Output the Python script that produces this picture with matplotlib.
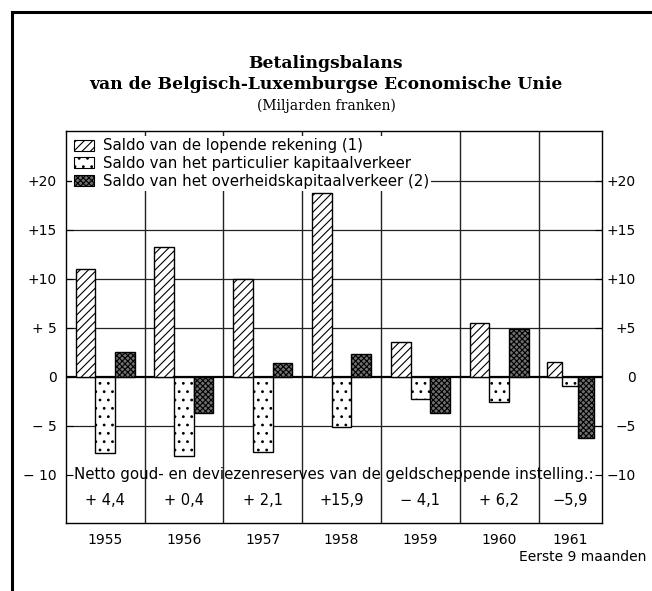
import matplotlib.pyplot as plt
from matplotlib.patches import Patch
from matplotlib.lines import Line2D
import matplotlib.transforms as mtransforms

plt.rcParams['font.family'] = ['DejaVu Sans']
plt.rcParams['hatch.linewidth'] = 0.8

years = ['1955', '1956', '1957', '1958', '1959', '1960', '1961']
col_widths = [1, 1, 1, 1, 1, 1, 0.8]   # last column (9 months) is narrower
lopende = [11.0, 13.3, 10.0, 18.8, 3.6, 5.5, 1.5]
particulier = [-7.8, -8.1, -7.7, -5.1, -2.2, -2.6, -0.9]
overheid = [2.6, -3.7, 1.4, 2.3, -3.7, 4.9, -6.2]
reserves = ['+ 4,4', '+ 0,4', '+ 2,1', '+15,9', '\u2212 4,1', '+ 6,2', '\u22125,9']

left_ticks = ['\u2212 10', '\u2212 5', '0', '+ 5', '+10', '+15', '+20']
right_ticks = ['\u221210', '\u22125', '0', '+5', '+10', '+15', '+20']
tick_vals = [-10, -5, 0, 5, 10, 15, 20]

labels = ['Saldo van de lopende rekening (1)',
          'Saldo van het particulier kapitaalverkeer',
          'Saldo van het overheidskapitaalverkeer (2)']

edges = [0]
for w in col_widths:
    edges.append(edges[-1] + w)
centers = [edges[i] + col_widths[i] / 2 for i in range(len(years))]

fig = plt.figure(figsize=(6.52, 5.91), dpi=100)
ax = fig.add_axes([65.7 / 652, 68 / 591, 536 / 652, 392 / 591])
ax.set_xlim(edges[0], edges[-1])
ax.set_ylim(-14.9, 25.1)

# grid
for y in [-5, 5, 10, 15, 20]:
    ax.axhline(y, color='#222222', lw=0.9, zorder=1)
ax.axhline(0, color='black', lw=1.6, zorder=4)
for e in edges[1:-1]:
    ax.axvline(e, color='#222222', lw=1.0, zorder=1)

styles = [dict(facecolor='white', hatch='////'),
          dict(facecolor='white', hatch='..'),
          dict(facecolor='#707070', hatch='xxxxxx')]
series = [lopende, particulier, overheid]
for s, (vals, st) in enumerate(zip(series, styles)):
    xs = [edges[i] + col_widths[i] * (0.25 * (s + 1)) for i in range(len(years))]
    ws = [w * 0.25 for w in col_widths]
    ax.bar(xs, vals, width=ws, edgecolor='black', lw=1.0, zorder=7, **st)

# netto reserves row
trans = mtransforms.blended_transform_factory(ax.transAxes, ax.transData)
ax.text(0.5, -10, 'Netto goud- en deviezenreserves van de geldscheppende instelling.:',
        transform=trans, ha='center', va='center', fontsize=10.8, zorder=5)
for c, r in zip(centers, reserves):
    ax.text(c, -12.6, r, ha='center', va='center', fontsize=10.5, zorder=5)

# axes / ticks
for sp in ax.spines.values():
    sp.set_linewidth(1.0)
ax.set_yticks(tick_vals, left_ticks)
ax.tick_params(axis='y', direction='in', length=5, pad=6.3, labelsize=10)
ax.set_xticks(centers, years)
ax.tick_params(axis='x', length=0, pad=7, labelsize=10)

ax2 = ax.twinx()
ax2.set_ylim(ax.get_ylim())
ax2.set_yticks(tick_vals, right_ticks)
ax2.tick_params(axis='y', direction='in', length=5, pad=24.5, labelsize=10)
for t in ax2.get_yticklabels():
    t.set_horizontalalignment('right')
for sp in ax2.spines.values():
    sp.set_visible(False)

handles = [Patch(edgecolor='black', lw=0.8, **st) for st in styles]
leg = ax.legend(handles, labels, loc='upper left', bbox_to_anchor=(0.012, 0.987),
                borderaxespad=0, frameon=True, fancybox=False, fontsize=10.8,
                handlelength=1.3, handleheight=0.75, handletextpad=0.6,
                labelspacing=0.18, borderpad=0.15)
leg.get_frame().set_edgecolor('none')
leg.get_frame().set_facecolor('white')
leg.get_frame().set_alpha(1)
leg.set_zorder(6)

fig.text(646 / 652, 1 - 557 / 591, 'Eerste 9 maanden', ha='right', va='center', fontsize=10)

# titles
fig.text(0.5, 1 - 63 / 591, 'Betalingsbalans', ha='center', va='center',
         family='DejaVu Serif', weight='bold', fontsize=12.3)
fig.text(0.5, 1 - 85 / 591, 'van de Belgisch-Luxemburgse Economische Unie', ha='center',
         va='center', family='DejaVu Serif', weight='bold', fontsize=12.3)
fig.text(0.5, 1 - 106 / 591, '(Miljarden franken)', ha='center', va='center',
         family='DejaVu Serif', fontsize=10)

# outer frame
fig.add_artist(Line2D([12 / 652, 12 / 652], [0, 1 - 12 / 591], color='black', lw=2.2,
                      transform=fig.transFigure))
fig.add_artist(Line2D([12 / 652, 1], [1 - 12 / 591, 1 - 12 / 591], color='black', lw=2.2,
                      transform=fig.transFigure))

fig.savefig('out.png', dpi=100)
